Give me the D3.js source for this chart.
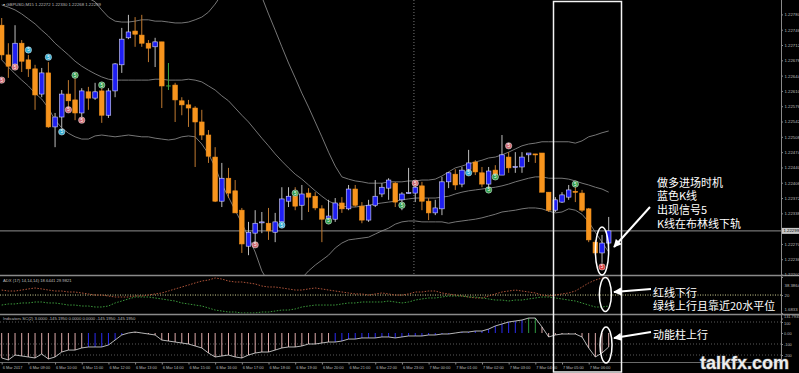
<!DOCTYPE html>
<meta charset="utf-8">
<head>
  <script src="https://d3js.org/d3.v7.min.js"></script>
  <style>
    body { margin: 0; background: #000; }
    svg { display: block; }
    .small { font-family: "Liberation Sans", Arial, sans-serif; fill: #bdbdbd; }
    .note { font-family: "Noto Sans CJK SC", sans-serif; fill: #fff; font-size: 11px; }
  </style>
</head>
<body>
<script>
// candle data, GBPUSD M15
var openP = [1.22756,1.22690,1.22668,1.22716,1.22679,1.22659,1.22603,1.22650,1.22530,1.22552,
  1.22603,1.22590,1.22561,1.22608,1.22594,1.22610,1.22556,1.22610,1.22668,1.22728,
  1.22743,1.22734,1.22716,1.22708,1.22719,1.22621,1.22623,1.22588,1.22579,1.22572,
  1.22541,1.22512,1.22463,1.22365,1.22416,1.22388,1.22345,1.22265,1.22294,1.22318,
  1.22316,1.22296,1.22319,1.22365,1.22376,1.22356,1.22383,1.22376,1.22348,1.22323,
  1.22325,1.22361,1.22348,1.22392,1.22354,1.22323,1.22356,1.22381,1.22394,1.22405,
  1.22368,1.22383,1.22383,1.22399,1.22365,1.22339,1.22348,1.22408,1.22425,1.22403,
  1.22436,1.22452,1.22428,1.22403,1.22434,1.22423,1.22463,1.22441,1.22441,1.22468,
  1.22470,1.22472,1.22385,1.22345,1.22363,1.22374,1.22387,1.22383,1.22348,1.22274,
  1.22250,1.22272];
var highP = [1.22772,1.22716,1.22756,1.22723,1.22690,1.22668,1.22661,1.22674,1.22561,1.22612,
  1.22634,1.22639,1.22616,1.22619,1.22628,1.22616,1.22616,1.22672,1.22750,1.22779,
  1.22774,1.22779,1.22723,1.22728,1.22719,1.22672,1.22628,1.22596,1.22590,1.22576,
  1.22568,1.22523,1.22485,1.22450,1.22439,1.22412,1.22350,1.22319,1.22345,1.22341,
  1.22350,1.22339,1.22396,1.22396,1.22396,1.22401,1.22394,1.22385,1.22356,1.22368,
  1.22372,1.22374,1.22401,1.22401,1.22363,1.22368,1.22412,1.22405,1.22416,1.22408,
  1.22385,1.22439,1.22401,1.22408,1.22372,1.22368,1.22419,1.22430,1.22436,1.22441,
  1.22479,1.22456,1.22441,1.22441,1.22445,1.22512,1.22474,1.22474,1.22474,1.22472,
  1.22470,1.22472,1.22385,1.22374,1.22385,1.22401,1.22396,1.22390,1.22350,1.22279,
  1.22290,1.22330];
var lowP = [1.22679,1.22639,1.22663,1.22652,1.22641,1.22568,1.22596,1.22528,1.22485,1.22528,
  1.22574,1.22545,1.22550,1.22568,1.22590,1.22539,1.22550,1.22596,1.22650,1.22725,
  1.22708,1.22708,1.22674,1.22663,1.22572,1.22612,1.22541,1.22556,1.22530,1.22441,
  1.22501,1.22450,1.22363,1.22352,1.22372,1.22339,1.22250,1.22245,1.22263,1.22294,
  1.22279,1.22274,1.22308,1.22352,1.22345,1.22323,1.22341,1.22345,1.22274,1.22319,
  1.22319,1.22339,1.22345,1.22352,1.22316,1.22319,1.22352,1.22374,1.22368,1.22352,
  1.22345,1.22381,1.22363,1.22345,1.22323,1.22334,1.22334,1.22394,1.22390,1.22396,
  1.22428,1.22423,1.22396,1.22396,1.22412,1.22423,1.22428,1.22428,1.22428,1.22452,
  1.22450,1.22385,1.22341,1.22341,1.22361,1.22368,1.22363,1.22341,1.22274,1.22245,
  1.22228,1.22268];
var closeP = [1.22690,1.22665,1.22716,1.22676,1.22659,1.22601,1.22650,1.22530,1.22552,1.22603,
  1.22588,1.22561,1.22610,1.22594,1.22608,1.22556,1.22610,1.22670,1.22725,1.22741,
  1.22736,1.22716,1.22705,1.22719,1.22621,1.22621,1.22590,1.22579,1.22572,1.22541,
  1.22512,1.22465,1.22365,1.22416,1.22383,1.22339,1.22270,1.22296,1.22316,1.22319,
  1.22299,1.22319,1.22370,1.22376,1.22354,1.22381,1.22374,1.22350,1.22325,1.22332,
  1.22361,1.22348,1.22392,1.22356,1.22323,1.22356,1.22376,1.22396,1.22412,1.22363,
  1.22381,1.22384,1.22396,1.22365,1.22339,1.22350,1.22408,1.22428,1.22401,1.22434,
  1.22450,1.22430,1.22403,1.22432,1.22423,1.22468,1.22439,1.22442,1.22463,1.22472,
  1.22469,1.22385,1.22345,1.22368,1.22379,1.22390,1.22385,1.22345,1.22279,1.22250,
  1.22272,1.22299];

// bollinger bands
var bbUpper = [1.22923,1.22919,1.22912,1.22905,1.22896,1.22888,1.22879,1.22870,1.22861,1.22852,
  1.22843,1.22834,1.22825,1.22816,1.22808,1.22790,1.22774,1.22765,1.22763,1.22763,
  1.22765,1.22768,1.22768,1.22765,1.22765,1.22763,1.22761,1.22761,1.22763,1.22768,
  1.22774,1.22785,1.22803,1.22825,1.22843,1.22856,1.22863,1.22859,1.22845,1.22819,
  1.22781,1.22745,1.22708,1.22672,1.22639,1.22605,1.22574,1.22541,1.22508,1.22474,
  1.22443,1.22419,1.22414,1.22410,1.22408,1.22405,1.22405,1.22405,1.22408,1.22408,
  1.22408,1.22410,1.22410,1.22412,1.22412,1.22414,1.22421,1.22430,1.22439,1.22443,
  1.22448,1.22452,1.22456,1.22461,1.22463,1.22468,1.22474,1.22481,1.22488,1.22492,
  1.22494,1.22497,1.22497,1.22497,1.22497,1.22497,1.22494,1.22499,1.22508,1.22512,
  1.22517,1.22521];
var bbMid = [1.22801,1.22796,1.22790,1.22781,1.22770,1.22759,1.22745,1.22732,1.22716,1.22703,
  1.22690,1.22676,1.22665,1.22656,1.22648,1.22641,1.22636,1.22634,1.22634,1.22634,
  1.22634,1.22634,1.22634,1.22636,1.22636,1.22634,1.22634,1.22634,1.22636,1.22634,
  1.22630,1.22621,1.22612,1.22599,1.22588,1.22572,1.22556,1.22541,1.22523,1.22505,
  1.22488,1.22470,1.22454,1.22439,1.22425,1.22414,1.22401,1.22388,1.22376,1.22365,
  1.22359,1.22354,1.22352,1.22352,1.22354,1.22356,1.22359,1.22361,1.22363,1.22365,
  1.22368,1.22370,1.22372,1.22372,1.22372,1.22372,1.22374,1.22376,1.22381,1.22385,
  1.22388,1.22390,1.22392,1.22394,1.22396,1.22399,1.22403,1.22408,1.22412,1.22416,
  1.22419,1.22419,1.22416,1.22416,1.22416,1.22414,1.22410,1.22405,1.22401,1.22396,
  1.22392,1.22385];
var bbLower = [1.22679,1.22663,1.22648,1.22634,1.22621,1.22605,1.22592,1.22572,1.22545,1.22528,
  1.22516,1.22508,1.22503,1.22503,1.22510,1.22512,1.22510,1.22508,1.22510,1.22512,
  1.22510,1.22508,1.22508,1.22505,1.22503,1.22501,1.22503,1.22508,1.22510,1.22508,
  1.22492,1.22470,1.22441,1.22403,1.22374,1.22345,1.22316,1.22285,1.22252,1.22210,
  1.22185,1.22165,1.22159,1.22163,1.22176,1.22194,1.22210,1.22223,1.22234,1.22245,
  1.22261,1.22272,1.22279,1.22281,1.22283,1.22285,1.22292,1.22299,1.22305,1.22314,
  1.22319,1.22321,1.22321,1.22319,1.22319,1.22319,1.22319,1.22316,1.22319,1.22321,
  1.22323,1.22325,1.22328,1.22332,1.22336,1.22341,1.22343,1.22345,1.22348,1.22350,
  1.22350,1.22348,1.22343,1.22339,1.22341,1.22348,1.22345,1.22336,1.22319,1.22296,
  1.22274,1.22252];

// signal dots
var sigIdx = [0,2,4,7,9,10,11,12,15,38,42,44,49,60,62,70,73,74,76,86,90];
var sigPrice = [1.22634,1.22663,1.22701,1.22685,1.22519,1.22568,1.22645,1.22545,1.22623,1.22268,
  1.22312,1.22383,1.22321,1.22356,1.22405,1.22428,1.22390,1.22419,1.22488,1.22403,1.22219];
var sigType = ["p","p","c","c","c","p","g","p","g","p","c","g","g","g","p","c","g","g","p","g","r"];

// ADX panel
var adxRed = [25.1,24.1,24.1,25.1,26.2,27.2,26.2,25.1,24.1,24.1,
  23.1,23.1,22.1,21.1,20.0,20.0,19.0,18.0,18.0,18.0,
  19.0,19.0,20.0,21.1,22.1,24.1,26.2,28.2,30.2,32.3,
  34.3,35.3,37.4,36.3,34.3,33.3,33.3,32.3,31.3,29.2,
  28.2,28.2,27.2,26.2,25.1,25.1,26.2,27.2,26.2,25.1,
  24.1,23.1,22.1,21.1,21.1,20.0,21.1,22.1,21.1,20.0,
  20.0,21.1,23.1,23.1,24.1,24.1,22.1,21.1,20.0,19.0,
  18.0,17.0,17.0,19.0,21.1,23.1,24.1,25.1,24.1,23.1,
  22.1,20.0,19.0,20.0,21.1,22.1,24.1,28.2,32.3,35.3,
  37.4,38.4];
var adxGreen = [9.8,10.9,10.9,11.9,11.9,12.9,12.9,11.9,11.9,10.9,
  9.8,9.8,8.8,8.8,7.8,7.8,8.8,11.9,13.9,16.0,
  18.0,18.0,18.0,17.0,16.0,14.9,13.9,11.9,10.9,9.8,
  8.8,6.8,4.7,3.7,2.7,2.7,1.7,1.7,1.7,2.7,
  2.7,3.7,4.7,4.7,5.8,7.8,8.8,9.8,9.8,9.8,
  9.8,10.9,11.9,11.9,12.9,12.9,12.9,12.9,13.9,12.9,
  11.9,12.9,14.9,16.0,17.0,17.0,18.0,19.0,19.0,19.0,
  18.0,18.0,17.0,16.0,14.9,14.9,13.9,14.9,14.9,16.0,
  17.0,18.0,18.0,17.0,16.0,14.9,13.9,11.9,9.8,7.8,
  7.8,8.8];
var adxLevel = 20;

// momentum histogram
var mom = [-227,-245,-200,-209,-218,-227,-191,-236,-218,-173,
  -155,-155,-136,-127,-127,-127,-109,-64,-18,0,
  9,0,-9,-18,-64,-73,-82,-91,-100,-118,
  -136,-182,-218,-209,-200,-218,-227,-200,-182,-173,
  -173,-155,-136,-127,-127,-118,-100,-100,-91,-82,
  -82,-73,-55,-55,-45,-45,-45,-36,-36,-45,
  -36,-27,-27,-27,-18,-18,-9,-9,0,9,
  9,18,18,36,64,82,100,109,118,136,
  136,55,-36,-18,-9,-9,-9,-36,-136,-218,
  -182,-127];
var momColor = ("rrrrrrrrrr" + "rrrbbbbbbr" + "rrrrrrrrrr" + "rrrrrrrrrr" + "rrrrrrrrrr" +
  "bbbbbbbbbb" + "bbbbbbbbbb" + "bbbbbbbbbg" + "grrrrrrrrr" + "rr").split("");
var momLevels = [100, -100, -200];

// axis labels
var priceTicks = [1.22780,1.22746,1.22712,1.22678,1.22644,1.22610,1.22576,1.22542,1.22508,
  1.22474,1.22440,1.22406,1.22372,1.22338,1.22270,1.22236,1.22202];
var adxTicks = [38.3864, 20, 1.6833];
var momTicks = [131.7935, 100, 0, -100, -200];
var timeIdx = d3.range(0, 92, 4);
var timeLabels = ["6 Mar 2017","6 Mar 09:00","6 Mar 10:00","6 Mar 11:00","6 Mar 12:00","6 Mar 13:00",
  "6 Mar 14:00","6 Mar 15:00","6 Mar 16:00","6 Mar 17:00","6 Mar 18:00","6 Mar 19:00","6 Mar 20:00",
  "6 Mar 21:00","6 Mar 22:00","6 Mar 23:00","7 Mar 00:00","7 Mar 01:00","7 Mar 02:00","7 Mar 03:00",
  "7 Mar 04:00","7 Mar 05:00","7 Mar 06:00"];
var markIdx = 61.8;

var W = 799, H = 373, plotR = 781;

var svg = d3.select("body").append("svg")
  .attr("width", W).attr("height", H)
  .style("background", "#000");

var x = d3.scaleLinear().domain([0, 91]).range([1.7, 608.7]);
var y = d3.scaleLinear().domain([1.22201, 1.22812]).range([275, 0]);
var yAdx = d3.scaleLinear().domain([1.6833, 38.3864]).range([313, 277]);
var yMom = d3.scaleLinear().domain([0, 100]).range([333, 322]);

var defs = svg.append("defs");
defs.append("clipPath").attr("id", "clipMain").append("rect")
  .attr("x", 0).attr("y", 0).attr("width", plotR).attr("height", 275);
defs.append("clipPath").attr("id", "clipAdx").append("rect")
  .attr("x", 0).attr("y", 276.5).attr("width", plotR).attr("height", 37);
defs.append("clipPath").attr("id", "clipMom").append("rect")
  .attr("x", 0).attr("y", 315).attr("width", plotR).attr("height", 47);
defs.append("marker").attr("id", "arrow")
  .attr("viewBox", "0 0 10 10").attr("refX", 9).attr("refY", 5)
  .attr("markerWidth", 10).attr("markerHeight", 8)
  .attr("markerUnits", "userSpaceOnUse").attr("orient", "auto")
  .append("path").attr("d", "M0,0L10,5L0,10z").attr("fill", "#fff");

var idx = d3.range(openP.length);

// ---------- main panel ----------
var main = svg.append("g").attr("clip-path", "url(#clipMain)");

main.append("line")
  .attr("x1", x(markIdx)).attr("x2", x(markIdx)).attr("y1", 0).attr("y2", 275)
  .attr("stroke", "#777").attr("stroke-dasharray", "1,2");

var bandLine = d3.line()
  .x(function (d, i) { return x(i); })
  .y(function (d) { return y(d); });

[bbUpper, bbMid, bbLower].forEach(function (arr) {
  main.append("path").datum(arr)
    .attr("d", bandLine)
    .attr("fill", "none")
    .attr("stroke", "#767676")
    .attr("stroke-width", 1);
});

// current price line
main.append("line")
  .attr("x1", 0).attr("x2", plotR)
  .attr("y1", y(closeP[closeP.length - 1])).attr("y2", y(closeP[closeP.length - 1]))
  .attr("stroke", "#8f8f8f").attr("stroke-width", 1);

function bull(i) { return closeP[i] > openP[i]; }
function doji(i) { return closeP[i] === openP[i]; }

main.selectAll(".wick").data(idx).enter().append("line")
  .attr("class", "wick")
  .attr("x1", function (i) { return x(i); })
  .attr("x2", function (i) { return x(i); })
  .attr("y1", function (i) { return y(highP[i]); })
  .attr("y2", function (i) { return y(lowP[i]); })
  .attr("stroke", function (i) {
    return doji(i) ? "#3fa33f" : bull(i) ? "#bdbdbd" : "#c07a30";
  })
  .attr("stroke-width", 1);

main.selectAll(".body").data(idx.filter(function (i) { return !doji(i); })).enter().append("rect")
  .attr("class", "body")
  .attr("x", function (i) { return x(i) - 2.3; })
  .attr("width", 4.6)
  .attr("y", function (i) { return y(Math.max(openP[i], closeP[i])); })
  .attr("height", function (i) { return Math.max(1, Math.abs(y(openP[i]) - y(closeP[i]))); })
  .attr("fill", function (i) { return bull(i) ? "#1f1ff2" : "#f7941d"; })
  .attr("stroke", function (i) { return bull(i) ? "#d6d6ff" : "#f7941d"; })
  .attr("stroke-width", 0.6);

main.selectAll(".doji").data(idx.filter(doji)).enter().append("line")
  .attr("x1", function (i) { return x(i) - 2.3; })
  .attr("x2", function (i) { return x(i) + 2.3; })
  .attr("y1", function (i) { return y(openP[i]); })
  .attr("y2", function (i) { return y(openP[i]); })
  .attr("stroke", "#3fa33f").attr("stroke-width", 1);

var sigFill = { p: "#d06a72", c: "#36aed3", g: "#35a050", r: "#d83a3a" };
var sig = main.selectAll(".sig").data(sigIdx).enter().append("g")
  .attr("transform", function (d, k) { return "translate(" + x(d) + "," + y(sigPrice[k]) + ")"; });
sig.append("circle").attr("r", 3.2)
  .attr("fill", function (d, k) { return sigFill[sigType[k]]; })
  .attr("stroke", "#e8e8e8").attr("stroke-width", 0.5);
sig.append("text").attr("text-anchor", "middle").attr("dy", 1.5)
  .attr("font-size", "4.5px").attr("fill", "#fff")
  .attr("font-family", "Liberation Sans, Arial, sans-serif")
  .text("5");

// ---------- ADX panel ----------
var adxG = svg.append("g").attr("clip-path", "url(#clipAdx)");
adxG.append("line")
  .attr("x1", 0).attr("x2", plotR).attr("y1", yAdx(adxLevel)).attr("y2", yAdx(adxLevel))
  .attr("stroke", "#cfcf95").attr("stroke-dasharray", "1,1.5");
var adxLine = d3.line().x(function (d, i) { return x(i); }).y(function (d) { return yAdx(d); });
adxG.append("path").datum(adxRed).attr("d", adxLine)
  .attr("fill", "none").attr("stroke", "#b0553a").attr("stroke-width", 1)
  .attr("stroke-dasharray", "1.5,1.5");
adxG.append("path").datum(adxGreen).attr("d", adxLine)
  .attr("fill", "none").attr("stroke", "#3c9a3c").attr("stroke-width", 1)
  .attr("stroke-dasharray", "1.5,1.5");

// ---------- momentum panel ----------
var momG = svg.append("g").attr("clip-path", "url(#clipMom)");
momLevels.forEach(function (v) {
  momG.append("line")
    .attr("x1", 0).attr("x2", plotR).attr("y1", yMom(v)).attr("y2", yMom(v))
    .attr("stroke", "#5a5a5a").attr("stroke-dasharray", "1,2");
});
var momFill = { r: "#dcaaaa", b: "#2b2bf0", g: "#2f9a40" };
momG.selectAll(".bar").data(idx).enter().append("line")
  .attr("x1", function (i) { return x(i); })
  .attr("x2", function (i) { return x(i); })
  .attr("y1", yMom(0))
  .attr("y2", function (i) { return yMom(mom[i]); })
  .attr("stroke", function (i) { return momFill[momColor[i]]; })
  .attr("stroke-width", 1);
momG.append("path").datum(mom)
  .attr("d", d3.line().x(function (d, i) { return x(i); }).y(function (d) { return yMom(d); }))
  .attr("fill", "none").attr("stroke", "#e4e4e4").attr("stroke-width", 0.8);

// ---------- frames & axes ----------
[275.5, 314.5].forEach(function (yy) {
  svg.append("line").attr("x1", 0).attr("x2", W).attr("y1", yy).attr("y2", yy)
    .attr("stroke", "#8a8a8a").attr("stroke-width", 1.5);
});
svg.append("line").attr("x1", 0).attr("x2", plotR).attr("y1", 362.5).attr("y2", 362.5)
  .attr("stroke", "#6a6a6a").attr("stroke-width", 1);
svg.append("line").attr("x1", plotR + 0.5).attr("x2", plotR + 0.5).attr("y1", 0).attr("y2", 362.5)
  .attr("stroke", "#8a8a8a").attr("stroke-width", 1);

function styleAxis(g, size) {
  g.select(".domain").remove();
  g.selectAll(".tick line").attr("stroke", "#8a8a8a");
  g.selectAll(".tick text")
    .attr("class", "small")
    .attr("fill", "#bdbdbd")
    .style("font-size", size)
    .style("font-family", "Liberation Sans, Arial, sans-serif");
}

var pAxis = svg.append("g").attr("transform", "translate(" + plotR + ",0)")
  .call(d3.axisRight(y).tickValues(priceTicks).tickFormat(d3.format(".5f")).tickSize(2).tickPadding(1.5));
styleAxis(pAxis, "4.3px");

var aAxis = svg.append("g").attr("transform", "translate(" + plotR + ",0)")
  .call(d3.axisRight(yAdx).tickValues(adxTicks)
    .tickFormat(function (d) { return d === 20 ? "20" : d3.format(".4f")(d); })
    .tickSize(2).tickPadding(1.5));
styleAxis(aAxis, "4.3px");
aAxis.selectAll(".tick text").attr("dy", function (d) {
  return d === adxTicks[0] ? "2.3em" : d === adxTicks[2] ? "-0.6em" : "0.32em";
});

var mAxis = svg.append("g").attr("transform", "translate(" + plotR + ",0)")
  .call(d3.axisRight(yMom).tickValues(momTicks)
    .tickFormat(function (d) { return d === 0 ? "0.00" : d === 131.7935 ? "131.7935" : String(d); })
    .tickSize(2).tickPadding(1));
styleAxis(mAxis, "3.9px");
mAxis.selectAll(".tick text").attr("dy", function (d) {
  return d === momTicks[0] ? "-0.15em" : d === momTicks[1] ? "0.75em" : "0.32em";
});

var tAxis = svg.append("g").attr("transform", "translate(0,362.5)")
  .call(d3.axisBottom(x).tickValues(timeIdx)
    .tickFormat(function (d, k) { return timeLabels[k]; })
    .tickSize(2).tickPadding(2));
styleAxis(tAxis, "3.9px");
tAxis.selectAll(".tick text").attr("text-anchor", "start").attr("dx", 0.5);

// current price marker on the axis
var lastY = y(closeP[closeP.length - 1]);
svg.append("rect").attr("x", plotR + 1).attr("y", lastY - 3).attr("width", 17).attr("height", 6)
  .attr("fill", "#c8c8c8");
svg.append("text").attr("x", plotR + 2.5).attr("y", lastY + 1.5)
  .attr("font-size", "4.3px").attr("fill", "#000")
  .attr("font-family", "Liberation Sans, Arial, sans-serif")
  .text(d3.format(".5f")(closeP[closeP.length - 1]));

// panel titles
svg.append("text").attr("class", "small").attr("x", 3).attr("y", 6)
  .style("font-size", "4.3px")
  .text("\u25BE GBPUSD,M15  1.22272 1.22330 1.22268 1.22299");
svg.append("text").attr("class", "small").attr("x", 3).attr("y", 281.5)
  .style("font-size", "4.2px")
  .text("ADX (17) 14,14,14) 18.6441 29.9821");
svg.append("text").attr("class", "small").attr("x", 3).attr("y", 319.5)
  .style("font-size", "4.2px")
  .text("Indicators SC(2) 3.0000 -145.1950 0.0000 0.0000 -145.1950 -145.1950");

// ---------- annotations ----------
svg.append("rect")
  .attr("x", 553.5).attr("y", 1.5).attr("width", 68).attr("height", 370.5)
  .attr("fill", "none").attr("stroke", "#f4f4f4").attr("stroke-width", 1.5);

svg.append("ellipse").attr("cx", x(90)).attr("cy", 251).attr("rx", 6.6).attr("ry", 24)
  .attr("fill", "none").attr("stroke", "#fff").attr("stroke-width", 1.5);
svg.append("ellipse").attr("cx", x(90.5)).attr("cy", 294.5).attr("rx", 6).attr("ry", 17)
  .attr("fill", "none").attr("stroke", "#fff").attr("stroke-width", 1.5);
svg.append("ellipse").attr("cx", x(90.6)).attr("cy", 345).attr("rx", 6).attr("ry", 18)
  .attr("fill", "none").attr("stroke", "#fff").attr("stroke-width", 1.5);

[[650, 207, 614, 247], [651, 289, 614, 292], [651, 332, 614, 338]].forEach(function (a) {
  svg.append("line").attr("x1", a[0]).attr("y1", a[1]).attr("x2", a[2]).attr("y2", a[3])
    .attr("stroke", "#fff").attr("stroke-width", 2)
    .attr("marker-end", "url(#arrow)");
});

var mainNote = ["做多进场时机", "蓝色K线", "出现信号5", "K线在布林线下轨"];
mainNote.forEach(function (t, k) {
  svg.append("text").attr("class", "note").attr("x", 657).attr("y", 186.5 + k * 13.7).text(t);
});
svg.append("text").attr("class", "note").attr("x", 653).attr("y", 296.5).text("红线下行");
svg.append("text").attr("class", "note").attr("x", 653).attr("y", 309.5).text("绿线上行且靠近20水平位");
svg.append("text").attr("class", "note").attr("x", 653).attr("y", 339).text("动能柱上行");

// watermark
svg.append("text")
  .attr("x", 700).attr("y", 369)
  .attr("font-family", "Liberation Sans, Arial, sans-serif")
  .attr("font-weight", "bold").attr("font-size", "18px")
  .attr("fill", "#ededed").attr("stroke", "#4a4a4a").attr("stroke-width", 1.2)
  .attr("paint-order", "stroke")
  .text("talkfx.com");
</script>
</body>
</html>
